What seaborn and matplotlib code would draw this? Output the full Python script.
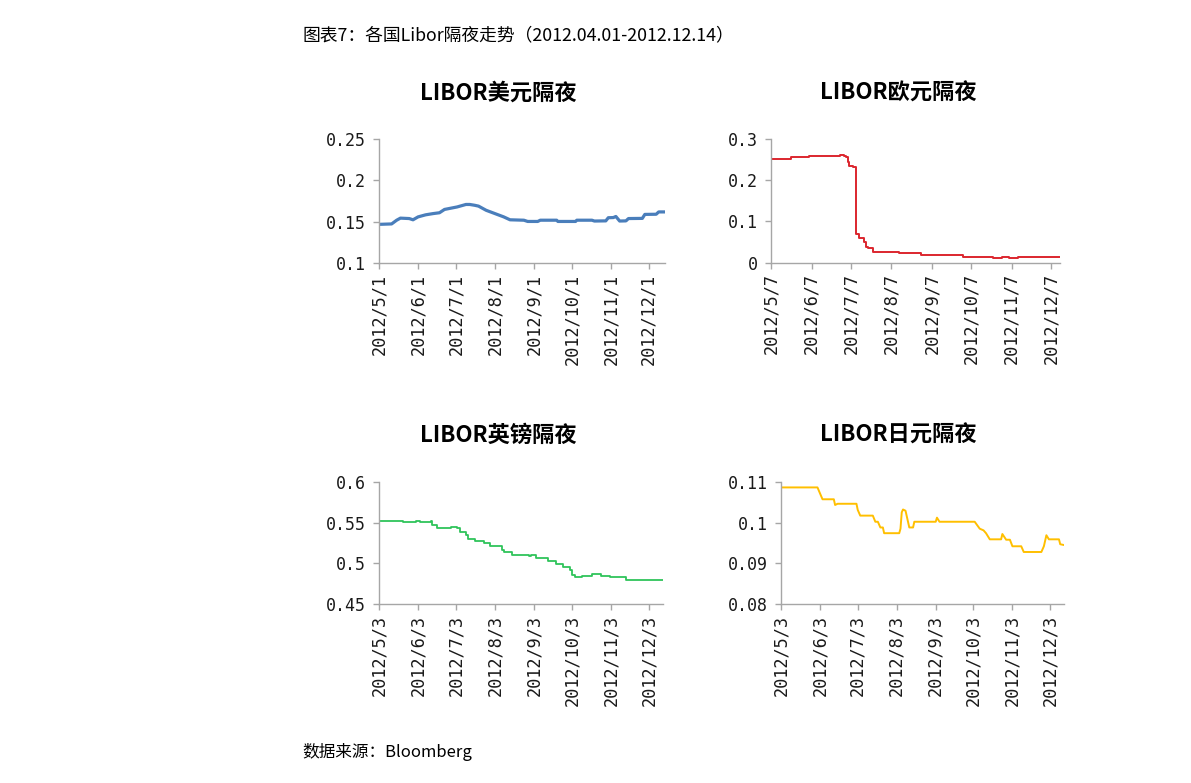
import matplotlib
matplotlib.use("Agg")
import matplotlib.pyplot as plt
import matplotlib.dates as mdates
from matplotlib.ticker import FixedLocator, FuncFormatter
import seaborn as sns
import pandas as pd

# ---------------- data ----------------
usd_dates = ["2012-05-01", "2012-05-11", "2012-05-15", "2012-05-18", "2012-05-25", "2012-05-28",
             "2012-06-01", "2012-06-07", "2012-06-13", "2012-06-18", "2012-06-22", "2012-07-02",
             "2012-07-09", "2012-07-12", "2012-07-16", "2012-07-19", "2012-07-25", "2012-08-01",
             "2012-08-08", "2012-08-13", "2012-08-24", "2012-08-27", "2012-09-04", "2012-09-06",
             "2012-09-19", "2012-09-20", "2012-10-04", "2012-10-05", "2012-10-17", "2012-10-19",
             "2012-10-28", "2012-10-30", "2012-11-03", "2012-11-05", "2012-11-08", "2012-11-13",
             "2012-11-15", "2012-11-26", "2012-11-28", "2012-12-07", "2012-12-09", "2012-12-14"]
usd_values = [0.1470, 0.1475, 0.1520, 0.1545, 0.1540, 0.1525,
              0.1560, 0.1585, 0.1600, 0.1610, 0.1650, 0.1680,
              0.1710, 0.1710, 0.1700, 0.1690, 0.1640, 0.1600,
              0.1560, 0.1525, 0.1520, 0.1505, 0.1505, 0.1520,
              0.1520, 0.1505, 0.1505, 0.1520, 0.1520, 0.1510,
              0.1512, 0.1550, 0.1552, 0.1565, 0.1510, 0.1512,
              0.1540, 0.1542, 0.1590, 0.1592, 0.1620, 0.1620]

eur_dates = ["2012-05-07", "2012-05-22", "2012-06-05", "2012-06-29", "2012-07-02", "2012-07-03",
             "2012-07-05", "2012-07-06", "2012-07-09", "2012-07-11", "2012-07-13", "2012-07-17",
             "2012-07-19", "2012-07-20", "2012-07-24", "2012-08-13", "2012-08-29", "2012-08-30",
             "2012-10-01", "2012-10-24", "2012-10-31", "2012-11-05", "2012-11-12", "2012-12-14"]
eur_values = [0.2515, 0.2560, 0.2597, 0.2620, 0.2590, 0.2560,
              0.2450, 0.2350, 0.2320, 0.0690, 0.0590, 0.0510,
              0.0390, 0.0350, 0.0267, 0.0228, 0.0245, 0.0187,
              0.0146, 0.0106, 0.0150, 0.0106, 0.0150, 0.0150]

gbp_dates = ["2012-05-03", "2012-05-22", "2012-06-01", "2012-06-04", "2012-06-13", "2012-06-14",
             "2012-06-18", "2012-06-29", "2012-07-04", "2012-07-06", "2012-07-11", "2012-07-12",
             "2012-07-18", "2012-07-25", "2012-07-30", "2012-08-08", "2012-08-10", "2012-08-16",
             "2012-08-30", "2012-08-31", "2012-09-04", "2012-09-14", "2012-09-20", "2012-09-26",
             "2012-10-01", "2012-10-03", "2012-10-05", "2012-10-11", "2012-10-19", "2012-10-26",
             "2012-11-02", "2012-11-15", "2012-12-14"]
gbp_values = [0.5522, 0.5506, 0.5520, 0.5506, 0.5520, 0.5470,
              0.5433, 0.5447, 0.5430, 0.5384, 0.5347, 0.5298,
              0.5274, 0.5253, 0.5217, 0.5164, 0.5143, 0.5103,
              0.5090, 0.5109, 0.5066, 0.5030, 0.4989, 0.4960,
              0.4920, 0.4855, 0.4830, 0.4846, 0.4870, 0.4846,
              0.4830, 0.4797, 0.4797]

jpy_dates = ["2012-05-03", "2012-06-01", "2012-06-05", "2012-06-14", "2012-06-15", "2012-06-17",
             "2012-07-02", "2012-07-03", "2012-07-05", "2012-07-15", "2012-07-17", "2012-07-19",
             "2012-07-21", "2012-07-23", "2012-07-24", "2012-08-05", "2012-08-06", "2012-08-07",
             "2012-08-08", "2012-08-10", "2012-08-13", "2012-08-16", "2012-08-17", "2012-09-03",
             "2012-09-04", "2012-09-06", "2012-10-04", "2012-10-08", "2012-10-11", "2012-10-13",
             "2012-10-16", "2012-10-25", "2012-10-26", "2012-10-29", "2012-11-01", "2012-11-03",
             "2012-11-10", "2012-11-12", "2012-11-26", "2012-11-28", "2012-11-30", "2012-12-02",
             "2012-12-10", "2012-12-11", "2012-12-14"]
jpy_values = [0.1086, 0.1086, 0.1057, 0.1057, 0.1043, 0.1046,
              0.1046, 0.1031, 0.1017, 0.1017, 0.1002, 0.1002,
              0.0988, 0.0988, 0.0974, 0.0974, 0.0985, 0.1025,
              0.1032, 0.1029, 0.0988, 0.0988, 0.1002, 0.1002,
              0.1012, 0.1002, 0.1002, 0.0985, 0.0981, 0.0974,
              0.0959, 0.0959, 0.0972, 0.0958, 0.0958, 0.0942,
              0.0942, 0.0928, 0.0928, 0.0942, 0.0969, 0.0959,
              0.0959, 0.0947, 0.0945]

panel_titles = ["LIBOR美元隔夜", "LIBOR欧元隔夜", "LIBOR英镑隔夜", "LIBOR日元隔夜"]
y_ticks_usd = [0.1, 0.15, 0.2, 0.25]
y_ticks_eur = [0, 0.1, 0.2, 0.3]
y_ticks_gbp = [0.45, 0.5, 0.55, 0.6]
y_ticks_jpy = [0.08, 0.09, 0.1, 0.11]
fig_title = "图表7：各国Libor隔夜走势（2012.04.01-2012.12.14）"
source_text = "数据来源：Bloomberg"

# ---------------- style ----------------
sns.set_theme(style="white")
plt.rcParams["font.family"] = ["Noto Sans CJK SC", "DejaVu Sans"]
AXIS_GRAY = "#a6a6a6"

fig = plt.figure(figsize=(11.91, 7.83), dpi=100)
W, H = 1191, 783


def add_axes_px(left, top, right, bottom):
    return fig.add_axes([left / W, 1 - bottom / H, (right - left) / W, (bottom - top) / H])


panels = [
    dict(dates=usd_dates, values=usd_values, ticks=y_ticks_usd, color="#4a7ebb", lw=2.3,
         box=(379, 139, 665, 263.3), day=1, title=panel_titles[0], tpos=(498, 93), step=False),
    dict(dates=eur_dates, values=eur_values, ticks=y_ticks_eur, color="#dc262e", lw=1.4,
         box=(771, 139, 1060, 262.7), day=7, title=panel_titles[1], tpos=(898, 93), step=True),
    dict(dates=gbp_dates, values=gbp_values, ticks=y_ticks_gbp, color="#2fc45a", lw=1.3,
         box=(379.3, 481.7, 663, 604.3), day=3, title=panel_titles[2], tpos=(498, 435), step=True),
    dict(dates=jpy_dates, values=jpy_values, ticks=y_ticks_jpy, color="#ffbf00", lw=1.4,
         box=(781, 481.7, 1064, 604.3), day=3, title=panel_titles[3], tpos=(898, 435), step=False),
]


def date_fmt(x, pos=None):
    d = mdates.num2date(x)
    return f"{d.year}/{d.month}/{d.day}"


def y_fmt(v, pos=None):
    return f"{round(v, 4):g}"


for p in panels:
    ax = add_axes_px(*p["box"])
    df = pd.DataFrame({"date": pd.to_datetime(p["dates"]), "value": p["values"]})
    kw = dict(drawstyle="steps-post") if p["step"] else {}
    sns.lineplot(data=df, x="date", y="value", ax=ax, color=p["color"], linewidth=p["lw"], **kw)
    ax.set_xlim(df["date"].iloc[0], pd.Timestamp("2012-12-14"))
    ax.set_ylim(p["ticks"][0], p["ticks"][-1])
    ax.yaxis.set_major_locator(FixedLocator(p["ticks"]))
    ax.yaxis.set_major_formatter(FuncFormatter(y_fmt))
    ax.xaxis.set_major_locator(mdates.MonthLocator(bymonthday=p["day"]))
    ax.xaxis.set_major_formatter(FuncFormatter(date_fmt))
    ax.set_xlabel("")
    ax.set_ylabel("")
    for s in ["top", "right"]:
        ax.spines[s].set_visible(False)
    for s in ["left", "bottom"]:
        ax.spines[s].set_color(AXIS_GRAY)
        ax.spines[s].set_linewidth(1.0)
    ax.tick_params(axis="both", which="major", direction="out", length=4.5, width=1.0,
                   color=AXIS_GRAY, left=True, bottom=True)
    ax.tick_params(axis="y", pad=5, labelsize=12, labelcolor="#1a1a1a")
    ax.tick_params(axis="x", pad=3, labelsize=12.2, labelcolor="#1a1a1a", labelrotation=90)
    for lab in ax.get_yticklabels() + ax.get_xticklabels():
        lab.set_family(["DejaVu Sans Mono"])
    ax.patch.set_alpha(0)
    ax.grid(False)
    fig.text(p["tpos"][0] / W, 1 - p["tpos"][1] / H, p["title"], ha="center", va="center",
             fontsize=16, fontweight="bold", color="#000000",
             family=["Noto Sans CJK SC", "DejaVu Sans"])

fig.text(302 / W, 1 - 35 / H, fig_title, ha="left", va="center", fontsize=12.8, color="#000000",
         family=["Noto Sans CJK SC", "DejaVu Sans"])
fig.text(302 / W, 1 - 752 / H, source_text, ha="left", va="center", fontsize=12, color="#000000",
         family=["Noto Sans CJK SC", "DejaVu Sans"])

fig.savefig("out.png", dpi=100, facecolor="white")
